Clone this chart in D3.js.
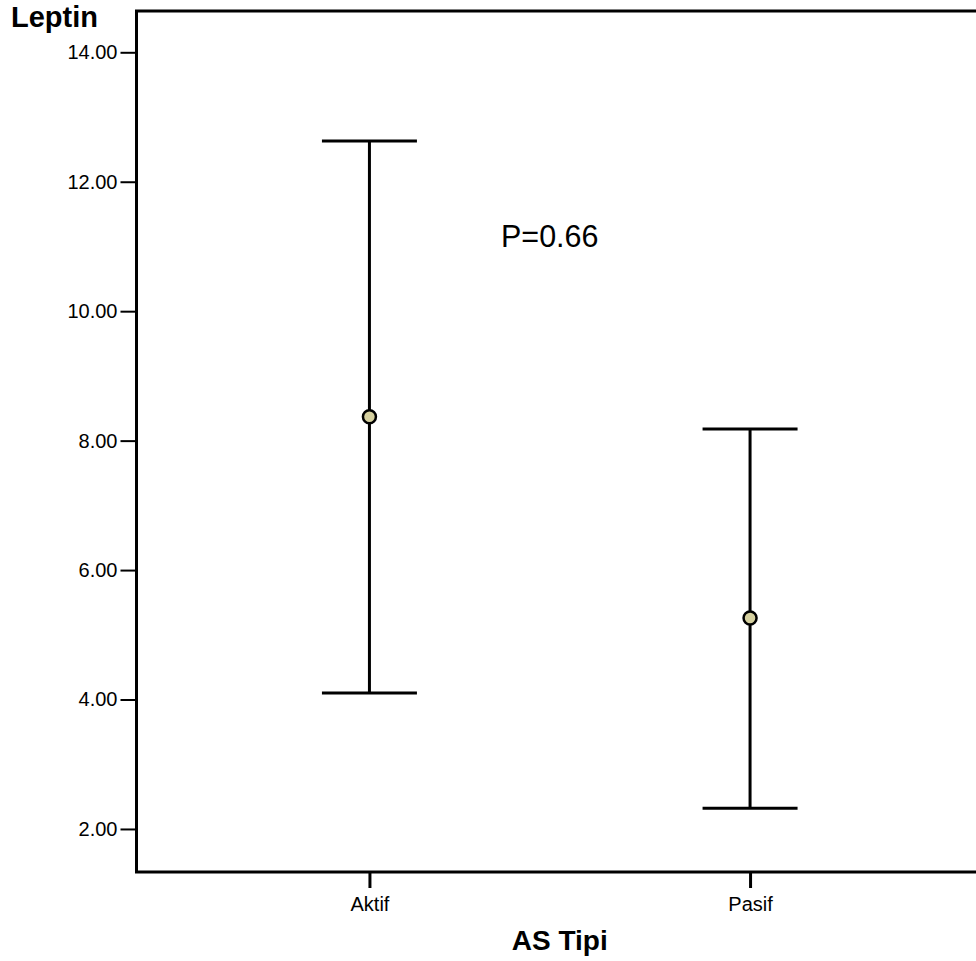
<!DOCTYPE html>
<html>
<head>
<meta charset="utf-8">
<script src="https://cdn.jsdelivr.net/npm/d3@7"></script>
<style>
  body { margin: 0; background: #fff; }
  svg { display: block; font-family: "Liberation Sans", Arial, sans-serif; }
</style>
</head>
<body>
<div id="chart-area"></div>
<script>
// data
const groups = ["Aktif", "Pasif"]
const means = [8.37, 5.26]
const lowers = [4.10, 2.32]
const uppers = [12.63, 8.18]
const yTicks = [2, 4, 6, 8, 10, 12, 14]
const pLabel = "P=0.66"

const WIDTH = 976
const HEIGHT = 961
const PLOT = { LEFT: 136.5, RIGHT: 983, TOP: 11, BOTTOM: 872 }

const svg = d3.select("#chart-area")
  .append("svg")
  .attr("width", WIDTH)
  .attr("height", HEIGHT)

const x = d3.scalePoint()
  .domain(groups)
  .range([PLOT.LEFT, PLOT.RIGHT])
  .padding(0.612)

const y = d3.scaleLinear()
  .domain([1.335, 14.638])
  .range([PLOT.BOTTOM, PLOT.TOP])

// frame (right side falls off the page)
svg.append("path")
  .attr("d", `M${PLOT.RIGHT + 10},${PLOT.TOP}H${PLOT.LEFT}V${PLOT.BOTTOM}H${PLOT.RIGHT + 10}`)
  .attr("fill", "none")
  .attr("stroke", "#000")
  .attr("stroke-width", 3)

// y axis
const yAxis = svg.append("g")
  .attr("transform", `translate(${PLOT.LEFT},0)`)
  .call(d3.axisLeft(y).tickValues(yTicks).tickFormat(d3.format(".2f")).tickSize(16).tickPadding(3))
yAxis.select(".domain").remove()
yAxis.selectAll("line").attr("stroke-width", 2)
yAxis.selectAll("text")
  .attr("font-size", 20)
  .attr("font-family", "Liberation Sans, Arial, sans-serif")
  .attr("fill", "#000")

// x axis
const xAxis = svg.append("g")
  .attr("transform", `translate(0,${PLOT.BOTTOM})`)
  .call(d3.axisBottom(x).tickSize(16).tickPadding(9))
xAxis.select(".domain").remove()
xAxis.selectAll("line").attr("stroke-width", 3)
xAxis.selectAll("text")
  .attr("font-size", 20)
  .attr("font-family", "Liberation Sans, Arial, sans-serif")
  .attr("fill", "#000")

// error bars
const bars = svg.selectAll(".bar")
  .data(groups)
  .enter()
  .append("g")
  .attr("class", "bar")

bars.append("line")
  .attr("x1", d => x(d))
  .attr("x2", d => x(d))
  .attr("y1", (d, i) => y(uppers[i]))
  .attr("y2", (d, i) => y(lowers[i]))
  .attr("stroke", "#000")
  .attr("stroke-width", 3)

bars.append("line")
  .attr("x1", d => x(d) - 47.5)
  .attr("x2", d => x(d) + 47.5)
  .attr("y1", (d, i) => y(uppers[i]))
  .attr("y2", (d, i) => y(uppers[i]))
  .attr("stroke", "#000")
  .attr("stroke-width", 3)

bars.append("line")
  .attr("x1", d => x(d) - 47.5)
  .attr("x2", d => x(d) + 47.5)
  .attr("y1", (d, i) => y(lowers[i]))
  .attr("y2", (d, i) => y(lowers[i]))
  .attr("stroke", "#000")
  .attr("stroke-width", 3)

bars.append("circle")
  .attr("cx", d => x(d))
  .attr("cy", (d, i) => y(means[i]))
  .attr("r", 6.5)
  .attr("fill", "#d5d09f")
  .attr("stroke", "#000")
  .attr("stroke-width", 2.5)

// labels
svg.append("text")
  .attr("x", 11)
  .attr("y", 27)
  .attr("font-size", 29)
  .attr("font-weight", "bold")
  .text("Leptin")

svg.append("text")
  .attr("x", (PLOT.LEFT + PLOT.RIGHT) / 2)
  .attr("y", 950)
  .attr("text-anchor", "middle")
  .attr("font-size", 28)
  .attr("font-weight", "bold")
  .text("AS Tipi")

svg.append("text")
  .attr("x", 501)
  .attr("y", 247)
  .attr("font-size", 30.5)
  .text(pLabel)
</script>
</body>
</html>
